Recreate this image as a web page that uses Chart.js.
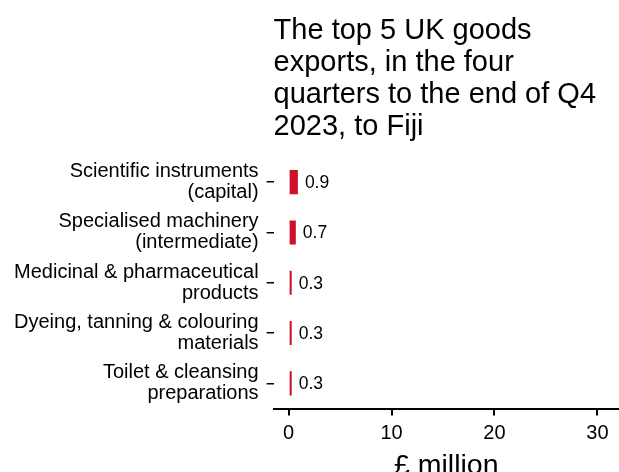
<!DOCTYPE html>
<html>
<head>
<meta charset="utf-8">
<script src="https://cdn.jsdelivr.net/npm/chart.js@4"></script>
<style>
  html, body { margin: 0; padding: 0; background: #fff; }
  #wrap { width: 619px; height: 472px; }
</style>
</head>
<body>
<div id="wrap"><canvas id="grafica"></canvas></div>
<script>
// datos del grafico
var productos = [
  ["Scientific instruments", "(capital)"],
  ["Specialised machinery", "(intermediate)"],
  ["Medicinal & pharmaceutical", "products"],
  ["Dyeing, tanning & colouring", "materials"],
  ["Toilet & cleansing", "preparations"]
];
var valores = [0.9, 0.7, 0.3, 0.3, 0.3];
var marcasX = [0, 10, 20, 30];
var titulo = ["The top 5 UK goods", "exports, in the four", "quarters to the end of Q4", "2023, to Fiji"];

var fuente = "'Liberation Sans', Arial, sans-serif";

// etiquetas con el valor al final de cada barra
var etiquetasValor = {
  id: 'etiquetasValor',
  afterDatasetsDraw: function(chart) {
    var ctx = chart.ctx;
    var meta = chart.getDatasetMeta(0);
    ctx.save();
    ctx.font = '17.5px ' + fuente;
    ctx.fillStyle = '#000';
    ctx.textAlign = 'left';
    ctx.textBaseline = 'middle';
    meta.data.forEach(function(bar, i) {
      ctx.fillText(valores[i].toFixed(1), bar.x + 7, bar.y + 1);
    });
    ctx.restore();
  }
};

new Chart(document.getElementById('grafica'), {
  type: 'bar',
  data: {
    labels: productos,
    datasets: [{
      data: valores,
      backgroundColor: '#cf102d',
      borderWidth: 0,
      barPercentage: 0.48,
      categoryPercentage: 1
    }]
  },
  options: {
    indexAxis: 'y',
    responsive: true,
    maintainAspectRatio: false,
    animation: false,
    layout: { padding: { left: 6, right: 0, top: 0, bottom: -8 } },
    plugins: {
      legend: { display: false },
      tooltip: { enabled: false },
      title: {
        display: true,
        text: titulo,
        align: 'start',
        fullSize: false,
        color: '#000',
        font: { family: fuente, size: 29, weight: 'normal', lineHeight: '32px' },
        padding: { top: 15, bottom: 14 }
      }
    },
    scales: {
      x: {
        type: 'linear',
        min: -1.46,
        max: 32.1,
        afterBuildTicks: function(scale) {
          scale.ticks = marcasX.map(function(v) { return { value: v }; });
        },
        grid: { drawOnChartArea: false, drawTicks: true, tickLength: 7, color: '#000', lineWidth: 2 },
        border: { display: true, color: '#000', width: 2 },
        ticks: { color: '#000', padding: 6, maxRotation: 0, font: { family: fuente, size: 20 } },
        title: {
          display: true,
          text: '£ million',
          color: '#000',
          font: { family: fuente, size: 28.5, lineHeight: 1 },
          padding: { top: 0, bottom: 0 }
        }
      },
      y: {
        type: 'category',
        offset: true,
        grid: { drawOnChartArea: false, drawTicks: true, tickLength: 7, color: '#000', lineWidth: 1.5, offset: false },
        border: { display: false },
        ticks: { color: '#000', padding: 8, font: { family: fuente, size: 20, lineHeight: '21px' } }
      }
    }
  },
  plugins: [etiquetasValor]
});
</script>
</body>
</html>
